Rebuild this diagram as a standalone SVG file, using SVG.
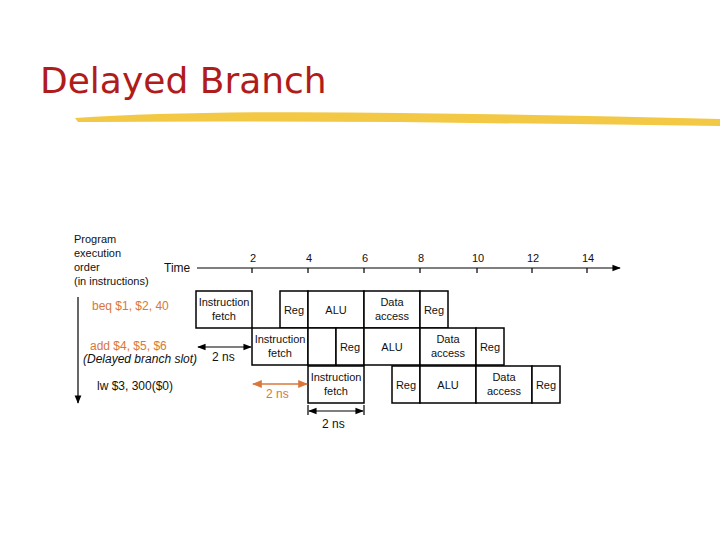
<svg xmlns="http://www.w3.org/2000/svg" width="720" height="540" viewBox="0 0 720 540">
<style>
text{font-family:"Liberation Sans",Arial,sans-serif;font-size:11px;fill:#111}
.c{text-anchor:middle}
.o{fill:#d9773a}
.b{fill:#fff;stroke:#000;stroke-width:1.5}
.ln{stroke:#000;stroke-width:1.2;fill:none}
</style>
<defs>
<marker id="ak" viewBox="0 0 10 10" refX="9" refY="5" markerWidth="7" markerHeight="7" orient="auto-start-reverse"><path d="M0,1 L10,5 L0,9 z" fill="#000"/></marker>
<marker id="ao" viewBox="0 0 10 10" refX="9" refY="5" markerWidth="7" markerHeight="7" orient="auto-start-reverse"><path d="M0,1 L10,5 L0,9 z" fill="#d9773a"/></marker>
</defs>
<rect width="720" height="540" fill="#fff"/>
<text x="40" y="93" style="font-family:'DejaVu Sans',sans-serif;font-size:36px;fill:#b01c1c">Delayed Branch</text>
<path d="M75,118 Q200,110 400,113 Q560,115 720,119 L720,126 Q560,124 400,122 Q200,121 78,122 Z" fill="#f2c230" opacity="0.9"/>
<g id="labels">
<text x="74" y="243">Program</text>
<text x="74" y="257">execution</text>
<text x="74" y="271">order</text>
<text x="74" y="285">(in instructions)</text>
<text x="164" y="272" style="font-size:12px">Time</text>
<text x="92" y="310" class="o" style="font-size:12px">beq $1, $2, 40</text>
<text x="90" y="350" class="o" style="font-size:12px">add $4, $5, $6</text>
<text x="83" y="363" style="font-style:italic;font-size:12px">(Delayed branch slot)</text>
<text x="97" y="390" style="font-size:12px">lw $3, 300($0)</text>
</g>
<g id="axis">
<line x1="197" y1="268" x2="620" y2="268" class="ln" marker-end="url(#ak)"/>
<g class="ln"><path d="M252,268v5M308,268v5M364,268v5M420,268v5M477,268v5M532,268v5M587,268v5"/></g>
<g class="c" style="font-size:12px"><text x="253" y="262">2</text><text x="309" y="262">4</text><text x="365" y="262">6</text><text x="421" y="262">8</text><text x="478" y="262">10</text><text x="533" y="262">12</text><text x="588" y="262">14</text></g>
<line x1="78" y1="297" x2="78" y2="403" class="ln" marker-end="url(#ak)"/>
</g>
<g id="row1">
<rect class="b" x="196" y="291" width="56" height="37"/><text class="c" x="224" y="306">Instruction</text><text class="c" x="224" y="320">fetch</text>
<rect class="b" x="280" y="291" width="28" height="37"/><text class="c" x="294" y="314">Reg</text>
<rect class="b" x="308" y="291" width="56" height="37"/><text class="c" x="336" y="314">ALU</text>
<rect class="b" x="364" y="291" width="56" height="37"/><text class="c" x="392" y="306">Data</text><text class="c" x="392" y="320">access</text>
<rect class="b" x="420" y="291" width="28" height="37"/><text class="c" x="434" y="314">Reg</text>
</g>
<g id="row2">
<rect class="b" x="252" y="328" width="56" height="37"/><text class="c" x="280" y="343">Instruction</text><text class="c" x="280" y="357">fetch</text>
<rect class="b" x="308" y="328" width="28" height="37"/>
<rect class="b" x="336" y="328" width="28" height="37"/><text class="c" x="350" y="351">Reg</text>
<rect class="b" x="364" y="328" width="56" height="37"/><text class="c" x="392" y="351">ALU</text>
<rect class="b" x="420" y="328" width="56" height="37"/><text class="c" x="448" y="343">Data</text><text class="c" x="448" y="357">access</text>
<rect class="b" x="476" y="328" width="28" height="37"/><text class="c" x="490" y="351">Reg</text>
</g>
<g id="row3">
<rect class="b" x="308" y="366" width="56" height="37"/><text class="c" x="336" y="381">Instruction</text><text class="c" x="336" y="395">fetch</text>
<rect class="b" x="392" y="366" width="28" height="37"/><text class="c" x="406" y="389">Reg</text>
<rect class="b" x="420" y="366" width="56" height="37"/><text class="c" x="448" y="389">ALU</text>
<rect class="b" x="476" y="366" width="56" height="37"/><text class="c" x="504" y="381">Data</text><text class="c" x="504" y="395">access</text>
<rect class="b" x="532" y="366" width="28" height="37"/><text class="c" x="546" y="389">Reg</text>
</g>
<g id="connectors">
<line x1="198" y1="347" x2="251" y2="347" class="ln" marker-start="url(#ak)" marker-end="url(#ak)"/>
<line x1="253" y1="384" x2="307" y2="384" stroke="#d9773a" stroke-width="1.4" marker-start="url(#ao)" marker-end="url(#ao)"/>
<line x1="309" y1="411" x2="363" y2="411" class="ln" marker-start="url(#ak)" marker-end="url(#ak)"/>
<path d="M308,405v10M364,405v10" class="ln"/>
</g>
<text x="212" y="361" style="font-size:12px">2 ns</text>
<text x="266" y="398" class="o" style="font-size:12px">2 ns</text>
<text x="322" y="428" style="font-size:12px">2 ns</text>
</svg>
